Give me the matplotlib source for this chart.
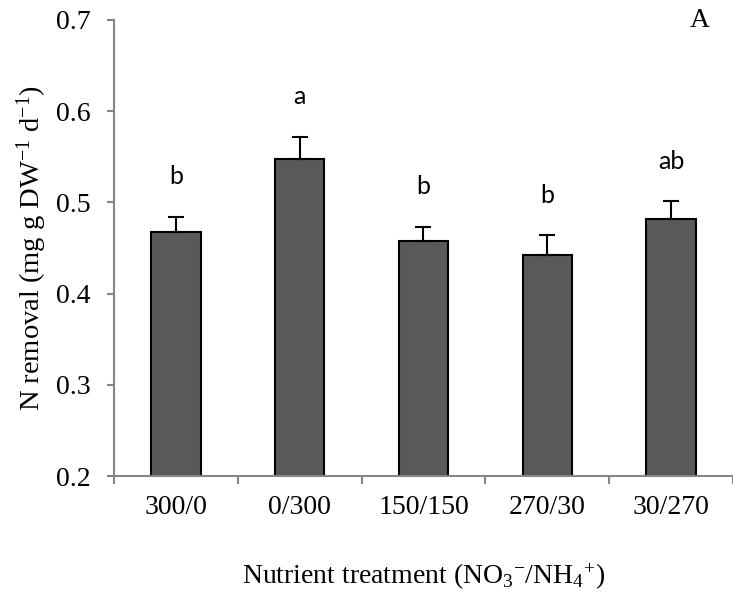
import matplotlib
matplotlib.use("Agg")
import matplotlib.pyplot as plt
import numpy as np

# Treatment data
treatments = ["300/0", "0/300", "150/150", "270/30", "30/270"]
n_removal = [0.468, 0.548, 0.458, 0.442, 0.482]
std_err = [0.016, 0.024, 0.015, 0.022, 0.019]
groups = ["b", "a", "b", "b", "ab"]
y_ticks = [0.2, 0.3, 0.4, 0.5, 0.6, 0.7]

plt.rcParams["font.family"] = ["Liberation Serif", "DejaVu Serif"]
plt.rcParams["mathtext.fontset"] = "custom"
plt.rcParams["mathtext.rm"] = "Liberation Serif"
plt.rcParams["mathtext.it"] = "Liberation Serif:italic"
plt.rcParams["mathtext.bf"] = "Liberation Serif:bold"

fig = plt.figure(figsize=(7.33, 5.95), dpi=100)
ax = fig.add_axes([0.1555, 0.2, 0.8445, 0.7664])

x = np.arange(len(treatments))
ax.bar(x, n_removal, width=0.4, color="#595959", edgecolor="black",
       linewidth=1.5, zorder=2)
ax.errorbar(x, n_removal, yerr=[np.zeros(len(x)), std_err], fmt="none",
            ecolor="black", elinewidth=1.5, capsize=5.5, capthick=1.5, zorder=3)

for xi, v, e, g in zip(x, n_removal, std_err, groups):
    ax.text(xi, v + e + 0.044, g, ha="center", va="center",
            fontsize=18, family=["Lato", "DejaVu Sans"])

ax.set_xlim(-0.5, len(treatments) - 0.5)
ax.set_ylim(0.2, 0.7)
ax.set_yticks(y_ticks)
ax.set_yticklabels([f"{t:.1f}" for t in y_ticks])
ax.set_xticks(x)
ax.set_xticklabels(treatments)
ax.set_xticks(np.arange(len(treatments) + 1) - 0.5, minor=True)

spine_color = "#868686"
for side in ["top", "right"]:
    ax.spines[side].set_visible(False)
for side in ["left", "bottom"]:
    ax.spines[side].set_color(spine_color)
    ax.spines[side].set_linewidth(1.5)

ax.tick_params(axis="y", direction="out", length=5, width=1.5,
               color=spine_color, labelsize=20, pad=12)
ax.tick_params(axis="x", which="major", length=0, labelsize=20, pad=14)
ax.tick_params(axis="x", which="minor", direction="out", length=6,
               width=1.5, color=spine_color)

ax.set_ylabel(r"N removal (mg g DW$^{-1}$ d$^{-1}$)", fontsize=20.5, labelpad=5)
ax.set_xlabel(r"Nutrient treatment (NO$_3$$^{-}$/NH$_4$$^{+}$)", fontsize=20,
              labelpad=30)

fig.text(0.955, 0.965, "A", fontsize=20, ha="center", va="center")

fig.savefig("out.png", dpi=100)
